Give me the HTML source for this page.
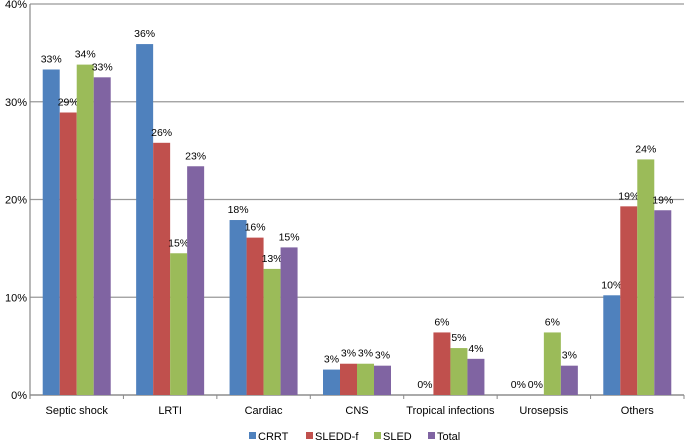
<!DOCTYPE html>
<html><head><meta charset="utf-8"><style>
html,body{margin:0;padding:0;background:#fff;}
svg{display:block;font-family:"Liberation Sans",sans-serif;}
</style></head><body>
<svg id="chart" width="685" height="442"></svg>
<script>
const categories=["Septic shock","LRTI","Cardiac","CNS","Tropical infections","Urosepsis","Others"];
const seriesNames=["CRRT","SLEDD-f","SLED","Total"];
const crrt=[33.3,35.9,17.9,2.6,0,0,10.2];
const sleddf=[28.9,25.8,16.1,3.2,6.4,0,19.3];
const sled=[33.8,14.5,12.9,3.2,4.8,6.4,24.1];
const total=[32.5,23.4,15.1,3.0,3.7,3.0,18.9];
const yTicks=[0,10,20,30,40];
const colors=["#4f81bd","#c0504d","#9bbb59","#8064a2"];
const series=[crrt,sleddf,sled,total];
const NS="http://www.w3.org/2000/svg";
const svg=document.getElementById("chart");
const x0=30,x1=684,yb=395,yt=4;
const y=v=>yb-(v/40)*(yb-yt);
const catW=(x1-x0)/categories.length;
const barW=17,pad=(catW-4*barW)/2;
function mk(t,a){const e=document.createElementNS(NS,t);for(const k in a)e.setAttribute(k,a[k]);svg.appendChild(e);return e;}
yTicks.forEach(t=>{
  const g=mk("line",{x1:x0,x2:x1,y1:y(t),y2:y(t),stroke:"#999","stroke-width":1.2});
  
  
  const l=mk("text",{x:27,y:y(t)+4,"text-anchor":"end","font-size":11,fill:"#000"});
  l.textContent=t+"%";
  
  
});
const ax=mk("line",{x1:x0,x2:x0,y1:yt,y2:yb+4,stroke:"#888","stroke-width":1.2});


const bx=mk("line",{x1:x0,x2:x1,y1:yb,y2:yb,stroke:"#888","stroke-width":1.2});


categories.forEach((c,i)=>{
  const cx=x0+i*catW;
  const tk=mk("line",{x1:cx+catW,x2:cx+catW,y1:yb,y2:yb+4,stroke:"#888"});
  
  
  series.forEach((s,j)=>{
    const bxp=cx+pad+j*barW;
    const r=mk("rect",{x:bxp,y:y(s[i]),width:barW,height:yb-y(s[i]),fill:colors[j]});
    
    
    const t=mk("text",{x:bxp+barW/2,y:y(s[i])-7,"text-anchor":"middle","font-size":10.5,fill:"#000"});
    t.textContent=Math.round(s[i])+"%";
    
    
  });
  const cl=mk("text",{x:cx+catW/2,y:414,"text-anchor":"middle","font-size":11,fill:"#000"});
  cl.textContent=c;
  
  
});
const legX=[249,306,374,428];
seriesNames.forEach((n,j)=>{
  const r=mk("rect",{x:legX[j],y:432,width:7,height:7,fill:colors[j]});
  
  
  const t=mk("text",{x:legX[j]+9,y:440,"font-size":11,fill:"#000"});
  t.textContent=n;
  
  
});
</script>
</body></html>
